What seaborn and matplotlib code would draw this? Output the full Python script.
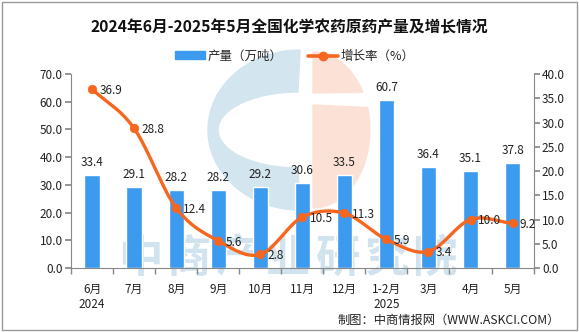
import numpy as np
import pandas as pd
import matplotlib
matplotlib.use("Agg")
import matplotlib.pyplot as plt
import seaborn as sns
from matplotlib.patches import Rectangle, Polygon
from matplotlib.lines import Line2D

months = ["6月\n2024", "7月", "8月", "9月", "10月", "11月", "12月", "1-2月\n2025", "3月", "4月", "5月"]
production = [33.4, 29.1, 28.2, 28.2, 29.2, 30.6, 33.5, 60.7, 36.4, 35.1, 37.8]
growth = [36.9, 28.8, 12.4, 5.6, 2.8, 10.5, 11.3, 5.9, 3.4, 10.0, 9.2]
watermark = "中商产业研究院"

sns.set_theme(style="white")
plt.rcParams['font.family'] = ['Noto Sans CJK SC', 'DejaVu Sans']

BAR = "#3d9bef"
LINE = "#f7661f"
TXT = "#222222"
W, H = 579, 332

fig = plt.figure(figsize=(5.79, 3.32), dpi=100)

def fp(px, py):
    return np.column_stack([np.asarray(px) / W, 1 - np.asarray(py) / H])

# --- faint logo watermark (behind everything) ---
t = np.linspace(np.pi / 2, 3 * np.pi / 2, 60)
outer = fp(300 + 92 * np.cos(t), 130 - 80 * np.sin(t))
inner = fp(298 + 80 * np.cos(t[::-1]), 130 - 38 * np.sin(t[::-1]))
cshape = np.vstack([outer, inner])
fig.patches.append(Polygon(cshape, closed=True, transform=fig.transFigure, color="#d3e5ef", zorder=-5))
tr = np.linspace(-np.pi / 2, np.pi / 2, 60)
ex = 313 + 57 * np.cos(tr)
ey = 130 - 78 * np.sin(tr)
body = ey >= 105
cap = ey <= 93
fig.patches.append(Polygon(np.vstack([fp([313], [105]), fp(ex[body], ey[body])]), closed=True,
                           transform=fig.transFigure, color="#fbe1d6", zorder=-5))
fig.patches.append(Polygon(np.vstack([fp(ex[cap], ey[cap]), fp([313], [93])]), closed=True,
                           transform=fig.transFigure, color="#fbe1d6", zorder=-5))
for i, ch in enumerate(watermark):
    cx = 140 + i * 49.2
    fig.text(cx / W, 1 - 259 / H, ch, fontsize=32, color="#d0e3ee", ha="center", va="center",
             fontweight="bold", zorder=-4)

ax = fig.add_axes([0.1226, 0.1928, 0.799, 0.5842])
ax2 = ax.twinx()
ax.patch.set_visible(False)
ax2.patch.set_visible(False)

df = pd.DataFrame({"month": months, "prod": production, "growth": growth})
x = np.arange(len(months))

sns.barplot(data=df, x="month", y="prod", color=BAR, width=0.36, ax=ax, saturation=1, zorder=2)
ax.set_ylim(0, 70)
ax.set_yticks(np.arange(0, 71, 10))
ax.set_yticklabels([f"{v:.1f}" for v in np.arange(0, 71, 10)], fontsize=8.5, color=TXT)
ax.set_xlim(-0.5, len(months) - 0.5)
ax.set_xticks(x)
ax.set_xticklabels(months, fontsize=8.5, color=TXT, linespacing=1.15)
ax.set_xlabel("")
ax.set_ylabel("")
for xi, v in zip(x, production):
    ax.text(xi, v + 2.2, f"{v:.1f}", ha="center", va="bottom", fontsize=8.5, color=TXT)

# smooth curve (Catmull-Rom through the data points)
g = np.array(growth, dtype=float)
xs, ys = [], []
P = np.concatenate([[2 * g[0] - g[1]], g, [2 * g[-1] - g[-2]]])
X = np.concatenate([[-1], x, [len(x)]]).astype(float)
for i in range(1, len(P) - 2):
    tt = np.linspace(0, 1, 20)
    p0, p1, p2, p3 = P[i - 1], P[i], P[i + 1], P[i + 2]
    q0, q1, q2, q3 = X[i - 1], X[i], X[i + 1], X[i + 2]
    yy = 0.5 * ((2 * p1) + (-p0 + p2) * tt + (2 * p0 - 5 * p1 + 4 * p2 - p3) * tt**2 + (-p0 + 3 * p1 - 3 * p2 + p3) * tt**3)
    xx = 0.5 * ((2 * q1) + (-q0 + q2) * tt + (2 * q0 - 5 * q1 + 4 * q2 - q3) * tt**2 + (-q0 + 3 * q1 - 3 * q2 + q3) * tt**3)
    xs.extend(xx); ys.extend(yy)
ax2.plot(xs, ys, color=LINE, lw=2.4, zorder=3, solid_capstyle="round")
sns.scatterplot(x=x, y=growth, ax=ax2, color=LINE, s=38, edgecolor=LINE, zorder=4, legend=False)
ax2.set_ylim(0, 40)
ax2.set_yticks(np.arange(0, 41, 5))
ax2.set_yticklabels([f"{v:.1f}" for v in np.arange(0, 41, 5)], fontsize=8.5, color=TXT)
for xi, v in zip(x, growth):
    ax2.text(xi + 0.17, v - 0.3, f"{v:.1f}", ha="left", va="center", fontsize=8.5, color=TXT, zorder=5)

for a in (ax, ax2):
    a.spines["top"].set_visible(False)
    for s in ("left", "right", "bottom"):
        a.spines[s].set_color("#888888")
        a.spines[s].set_linewidth(0.8)
ax.spines["right"].set_visible(False)
ax2.spines["left"].set_visible(False)
ax2.spines["bottom"].set_visible(False)
ax.tick_params(axis="y", direction="out", length=4, color="#888888", left=True, pad=2)
ax2.tick_params(axis="y", direction="out", length=4, color="#888888", right=True, pad=2)
ax.tick_params(axis="x", length=0, pad=11)
ax.set_xticks(np.arange(-0.5, len(months), 1), minor=True)
ax.tick_params(axis="x", which="minor", direction="out", length=4, color="#888888", bottom=True)

# title and legend
fig.text(0.5, 0.919, "2024年6月-2025年5月全国化学农药原药产量及增长情况", ha="center", va="center",
         fontsize=11.3, fontweight="bold", color="#111111")
h1 = Rectangle((0, 0), 1, 1, color=BAR)
h2 = Line2D([0], [0], color=LINE, lw=2.6, marker="o", markersize=6)
fig.legend([h1, h2], ["产量（万吨）", "增长率（%）"], loc="center", bbox_to_anchor=(0.509, 0.831),
           ncol=2, frameon=False, fontsize=9, handlelength=2.4, handleheight=0.55, columnspacing=2.0,
           handletextpad=0.25)

fig.text(0.967, 0.035, "制图：中商情报网（WWW.ASKCI.COM）", ha="right", va="center", fontsize=8.8, color=TXT)

fig.patches.append(Rectangle((0.003, 0.005), 0.994, 0.99, transform=fig.transFigure,
                             fill=False, edgecolor="#999999", lw=1))

fig.savefig("out.png", dpi=100)
